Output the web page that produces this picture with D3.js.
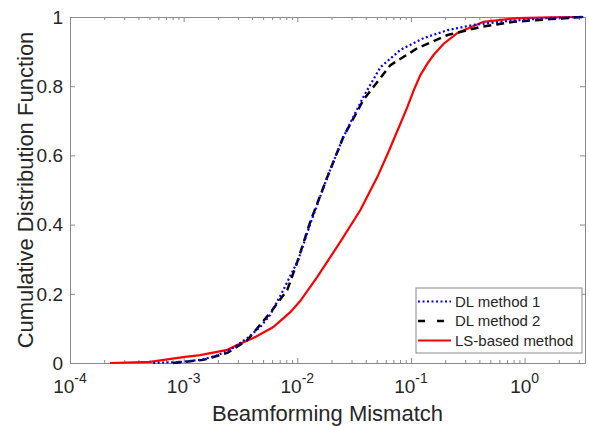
<!DOCTYPE html>
<html lang="en">
<head>
<meta charset="utf-8">
<title>CDF of beamforming mismatch</title>
<script src="https://cdn.jsdelivr.net/npm/d3@7"></script>
<style>
    body { margin: 0; background: #fff; }
    #chart1 { width: 589px; height: 426px; }
    text { font-family: "Liberation Sans", Arial, Helvetica, sans-serif; fill: #262626; }
    .axis path, .axis line { stroke: #8a8a8a; }
</style>
</head>
<body>
<div id="chart1"></div>
<script>
    // DL method 1 (blue dotted)
    const dl1X = [5.39e-4, 9.31e-4, 1.40e-3, 1.90e-3, 2.57e-3, 3.63e-3, 4.72e-3, 5.78e-3, 7.53e-3, 0.0102, 0.0130, 0.0184, 0.0254, 0.0381, 0.0539, 0.0808, 0.129, 0.210, 0.355, 0.708, 1.59, 3.31]
    const dl1Y = [0, 0.003, 0.009, 0.020, 0.038, 0.072, 0.104, 0.139, 0.211, 0.298, 0.402, 0.538, 0.653, 0.769, 0.855, 0.905, 0.939, 0.962, 0.977, 0.988, 0.997, 1]

    // DL method 2 (black dashed)
    const dl2X = [8.08e-4, 1.49e-3, 2.42e-3, 3.63e-3, 5.78e-3, 8.16e-3, 0.0100, 0.0130, 0.0184, 0.0254, 0.0381, 0.0660, 0.114, 0.210, 0.409, 0.800, 1.69, 3.31]
    const dl2Y = [0, 0.009, 0.029, 0.066, 0.145, 0.211, 0.292, 0.408, 0.538, 0.653, 0.760, 0.861, 0.910, 0.948, 0.971, 0.986, 0.994, 1]

    // LS-based method (red solid)
    const lsX = [2.25e-4, 5.07e-4, 9.9e-4, 1.40e-3, 2.42e-3, 2.96e-3, 4.09e-3, 6.15e-3, 8.68e-3, 0.0106, 0.0150, 0.0239, 0.0359, 0.0507, 0.0634, 0.0780, 0.0931, 0.107, 0.121, 0.140, 0.158, 0.193, 0.257, 0.435, 0.867, 1.69, 2.93]
    const lsY = [0, 0.003, 0.017, 0.023, 0.038, 0.052, 0.072, 0.104, 0.147, 0.179, 0.249, 0.350, 0.442, 0.538, 0.610, 0.680, 0.740, 0.792, 0.832, 0.866, 0.890, 0.922, 0.954, 0.986, 0.997, 0.999, 1]

    const xMajor = [-4, -3, -2, -1, 0]
    const yTicks = [0, 0.2, 0.4, 0.6, 0.8, 1]
    const seriesNames = ["DL method 1", "DL method 2", "LS-based method"]

    const margin = {top: 17, right: 4, bottom: 63, left: 70}
    const width = 589 - margin.left - margin.right
    const height = 426 - margin.top - margin.bottom

    const svg = d3.select("#chart1").append("svg")
        .attr("width", 589)
        .attr("height", 426)
      .append("g")
        .attr("transform", "translate(" + margin.left + "," + margin.top + ")")

    const x = d3.scaleLog().domain([1e-4, 3.4]).range([0, width])
    const y = d3.scaleLinear().domain([0, 1]).range([height, 0])

    const majors = xMajor.map(e => Math.pow(10, e))
    const minors = []
    xMajor.forEach(e => {
        for (let m = 2; m <= 9; m++) {
            const v = m * Math.pow(10, e)
            if (v <= x.domain()[1]) minors.push(v)
        }
    })

    // box + ticks (all pointing inward)
    function xAxis(gen, ty, size, vals) {
        svg.append("g").attr("class", "axis")
            .attr("transform", "translate(0," + ty + ")")
            .call(gen(x).tickValues(vals).tickSize(size).tickSizeOuter(0).tickFormat(""))
    }
    xAxis(d3.axisBottom, height, -5, majors)
    xAxis(d3.axisBottom, height, -3, minors)
    xAxis(d3.axisTop, 0, -5, majors)
    xAxis(d3.axisTop, 0, -3, minors)

    svg.append("g").attr("class", "axis")
        .call(d3.axisLeft(y).tickValues(yTicks).tickSize(-5).tickSizeOuter(0).tickFormat(""))
    svg.append("g").attr("class", "axis")
        .attr("transform", "translate(" + width + ",0)")
        .call(d3.axisRight(y).tickValues(yTicks).tickSize(-5).tickSizeOuter(0).tickFormat(""))
    svg.selectAll(".axis text").remove()

    // tick labels
    svg.selectAll(".ylab").data(yTicks).enter().append("text")
        .attr("x", -7)
        .attr("y", d => y(d))
        .attr("dy", "0.36em")
        .attr("text-anchor", "end")
        .style("font-size", "19px")
        .text(d => d)

    const xl = svg.selectAll(".xlab").data(xMajor).enter().append("text")
        .attr("x", d => x(Math.pow(10, d)))
        .attr("y", height + 30)
        .attr("text-anchor", "middle")
        .style("font-size", "19px")
    xl.append("tspan").text("10")
    xl.append("tspan").attr("dy", -10).style("font-size", "14px").text(d => d)

    // axis titles
    svg.append("text")
        .attr("x", width / 2)
        .attr("y", height + 58)
        .attr("text-anchor", "middle")
        .style("font-size", "22px")
        .text("Beamforming Mismatch")

    svg.append("text")
        .attr("transform", "translate(-37," + height / 2 + ") rotate(-90)")
        .attr("text-anchor", "middle")
        .style("font-size", "22px")
        .text("Cumulative Distribution Function")

    // lines
    const line = d3.line().x(d => x(d[0])).y(d => y(d[1]))
    const styles = [
        {color: "#0000ff", dash: "2,2.5", w: 2.2},
        {color: "#000000", dash: "8,5", w: 2.5},
        {color: "#ff0000", dash: null, w: 2.2}
    ]
    const series = [
        d3.zip(dl1X, dl1Y),
        d3.zip(dl2X, dl2Y),
        d3.zip(lsX, lsY)
    ]
    // draw red first so the DL curves sit on top like the original
    ;[2, 1, 0].forEach(i => {
        svg.append("path")
            .datum(series[i])
            .attr("fill", "none")
            .attr("stroke", styles[i].color)
            .attr("stroke-width", styles[i].w)
            .attr("stroke-dasharray", styles[i].dash)
            .attr("d", line)
    })

    // legend
    const lg = svg.append("g").attr("transform", "translate(346,271)")
    lg.append("rect")
        .attr("width", 166).attr("height", 65)
        .attr("fill", "#fff").attr("stroke", "#8a8a8a")
    seriesNames.forEach((name, i) => {
        const ly = 13.5 + i * 19.5
        lg.append("line")
            .attr("x1", 2).attr("x2", 35)
            .attr("y1", ly).attr("y2", ly)
            .attr("stroke", styles[i].color)
            .attr("stroke-width", styles[i].w)
            .attr("stroke-dasharray", i === 1 ? "7,12" : styles[i].dash)
        lg.append("text")
            .attr("x", 39).attr("y", ly)
            .attr("dy", "0.36em")
            .style("font-size", "15px")
            .text(name)
    })
</script>
</body>
</html>
